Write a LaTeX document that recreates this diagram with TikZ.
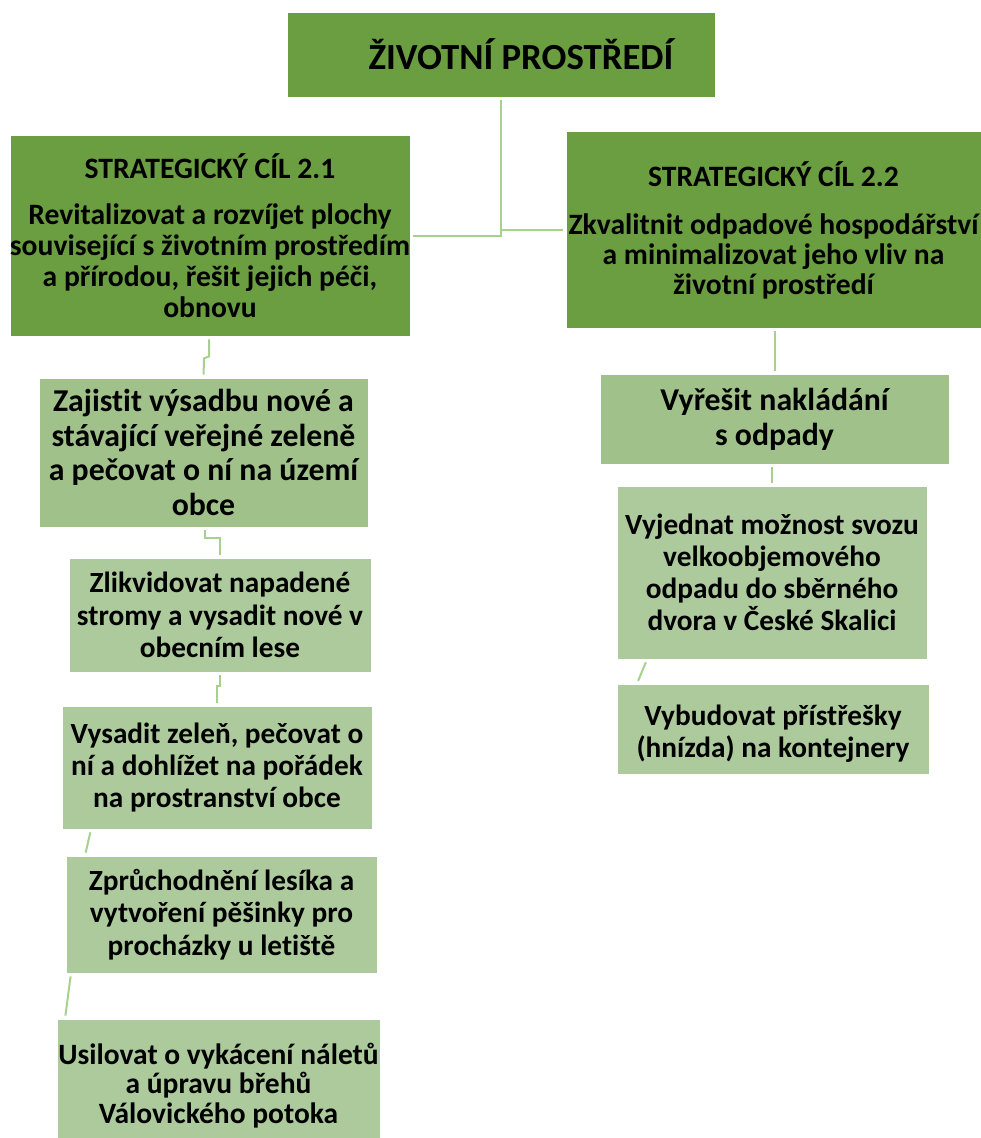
\documentclass[tikz,border=0pt]{standalone}
\usepackage{fontspec}
\setmainfont{Carlito}[Ligatures=CommonOff]
\definecolor{darkg}{HTML}{6A9E40}
\definecolor{midg}{HTML}{A0C28A}
\definecolor{lightg}{HTML}{ADCA9D}
\definecolor{lineg}{HTML}{A9D18E}
\tikzset{
  base/.style={rectangle, draw=white, line width=0.8pt, align=center, text=black, inner sep=0pt},
  darkbox/.style={base, fill=darkg},
  midbox/.style={base, fill=midg},
  lightbox/.style={base, fill=lightg},
  conn/.style={draw=lineg, line width=2pt, shorten <=3pt, shorten >=3pt},
  fA/.style={font=\bfseries\fontsize{36.8}{42}\selectfont},
  fB/.style={font=\bfseries\fontsize{29.6}{31}\selectfont},
  fBB/.style={font=\bfseries\fontsize{29.6}{30}\selectfont},
  fC/.style={font=\bfseries\fontsize{31.8}{34.8}\selectfont},
  fD/.style={font=\bfseries\fontsize{29.3}{32.2}\selectfont},
  fE/.style={font=\bfseries\fontsize{29.5}{29.5}\selectfont},
}
\begin{document}
\begin{tikzpicture}[x=1pt,y=-1pt]
\useasboundingbox (0,0) rectangle (981,1138);
% top
\node[darkbox, fA, minimum width=428pt, minimum height=85pt] (top) at (501,54.5) {\hspace*{40pt}ŽIVOTNÍ PROSTŘEDÍ};
% strategic goals
\node[darkbox, fB, minimum width=400pt, minimum height=201pt] (sc1) at (210,235.5)
  {STRATEGICKÝ CÍL 2.1\\[15pt]Revitalizovat a rozvíjet plochy\\související s životním prostředím\\a přírodou, řešit jejich péči,\\obnovu};
\node[darkbox, fBB, minimum width=415pt, minimum height=197pt] (sc2) at (773.5,229.5)
  {\rule{0pt}{26pt}STRATEGICKÝ CÍL 2.2\\[18pt]Zkvalitnit odpadové hospodářství\\a minimalizovat jeho vliv na\\životní prostředí};
% left chain
\node[midbox, fC, minimum width=329pt, minimum height=149pt] (zaj) at (203.5,452.5)
  {Zajistit výsadbu nové a\\stávající veřejné zeleně\\a pečovat o ní na území\\obce};
\node[lightbox, fD, minimum width=302pt, minimum height=114pt] (zlik) at (220,615)
  {Zlikvidovat napadené\\stromy a vysadit nové v\\obecním lese};
\node[lightbox, fD, minimum width=310pt, minimum height=123pt] (vys) at (217,767.5)
  {Vysadit zeleň, pečovat o\\ní a dohlížet na pořádek\\na prostranství obce};
\node[lightbox, fD, minimum width=311pt, minimum height=117pt] (zpr) at (221.5,914.5)
  {Zprůchodnění lesíka a\\vytvoření pěšinky pro\\procházky u letiště};
\node[lightbox, fE, minimum width=323pt, minimum height=121pt] (usi) at (218.5,1079.5)
  {\rule{0pt}{33pt}Usilovat o vykácení náletů\\a úpravu břehů\\Válovického potoka};
% right chain
\node[midbox, fC, minimum width=349pt, minimum height=90pt] (vyr) at (774.5,419)
  {Vyřešit nakládání\\s odpady};
\node[lightbox, fD, minimum width=310pt, minimum height=173pt] (vyj) at (772,572.5)
  {Vyjednat možnost svozu\\velkoobjemového\\odpadu do sběrného\\dvora v České Skalici};
\node[lightbox, fD, minimum width=312pt, minimum height=90pt] (vyb) at (773,729)
  {\rule{0pt}{30pt}Vybudovat přístřešky\\(hnízda) na kontejnery};
% connectors
\draw[conn] (top.south) |- (sc1.east);
\draw[conn] (top.south) |- (sc2.west);
\draw[conn] ([xshift=-1pt]sc1.south) -- ++(0,20) -- ++(-5,2) -- (zaj.north);
\draw[conn] ([xshift=1.5pt]zaj.south) -- ++(0,11) -| (zlik.north);
\draw[conn] (zlik.south) -- ++(0,14) -| (vys.north);
\draw[conn] ([xshift=-126pt]vys.south) -- ([xshift=-136.5pt]zpr.north);
\draw[conn] ([xshift=-150.5pt]zpr.south) -- ([xshift=-153.5pt]usi.north);
\draw[conn] (vyr.north |- sc2.south) -- (vyr.north);
\draw[conn] (vyj.north |- vyr.south) -- (vyj.north);
\draw[conn] ([xshift=-125pt]vyj.south) -- ([xshift=-136pt]vyb.north);
\end{tikzpicture}
\end{document}
